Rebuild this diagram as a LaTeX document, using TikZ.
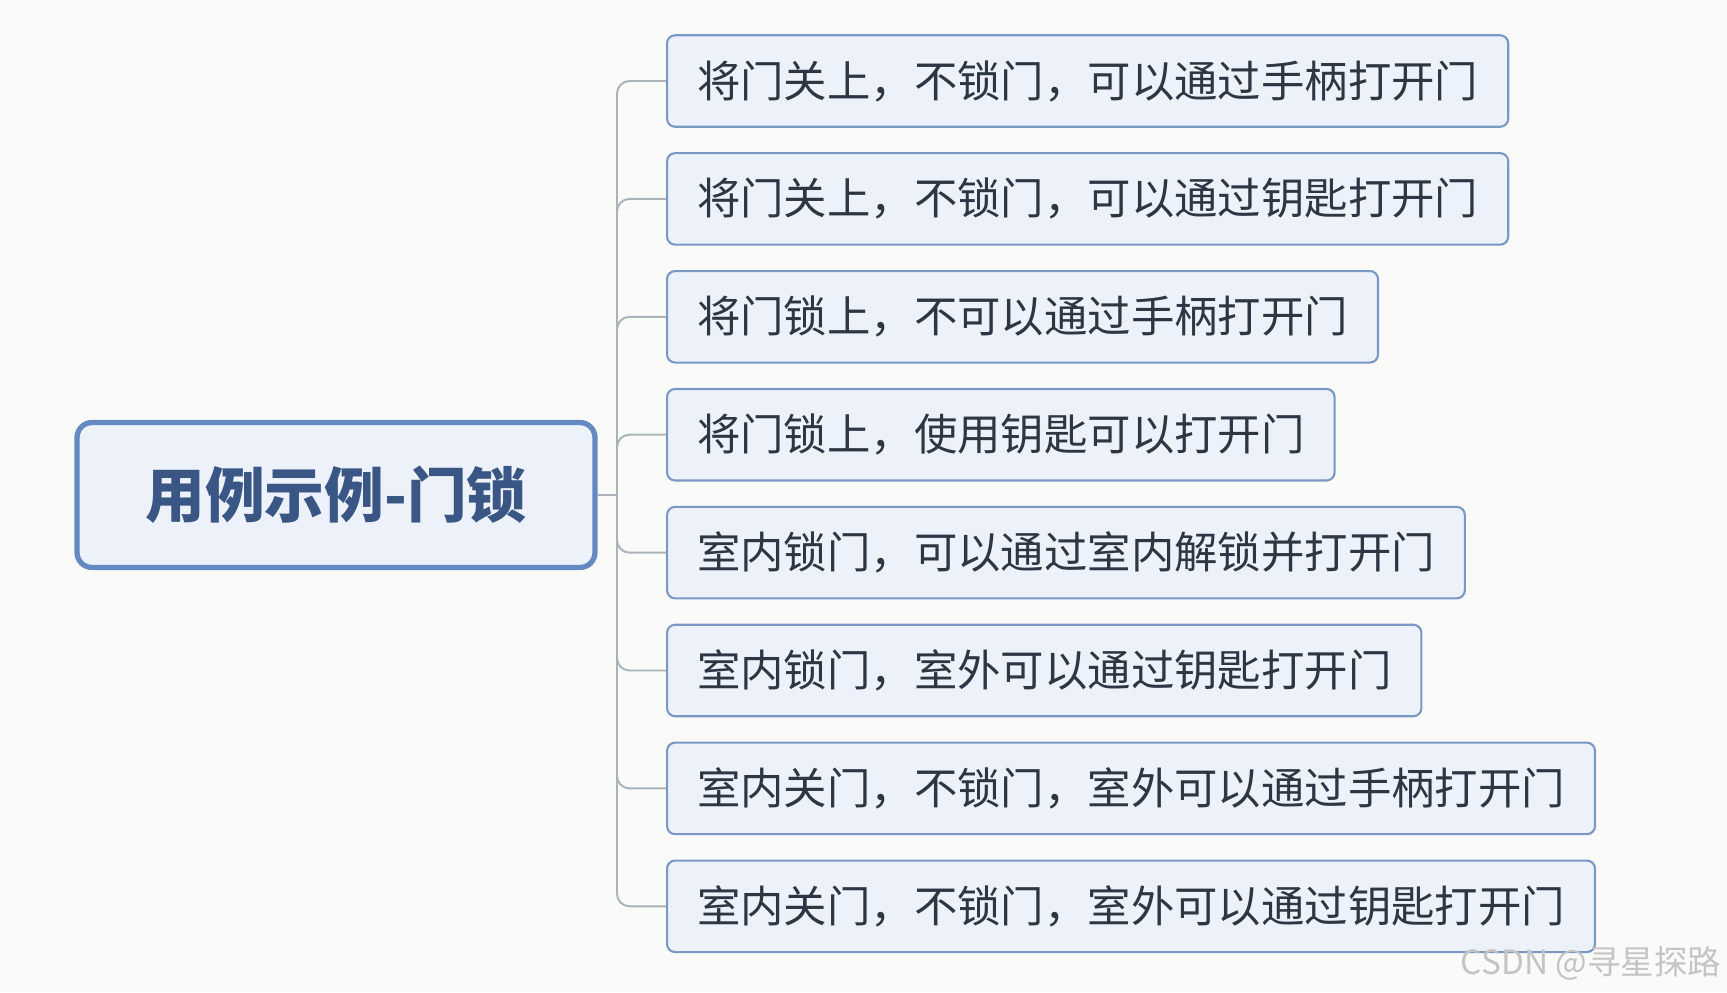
\documentclass[tikz,border=0pt]{standalone}
\usepackage{fontspec}
\usepackage{tikz}
\usetikzlibrary{positioning}
\newfontfamily\cjk{Noto Sans CJK SC}
\definecolor{bgPaper}{HTML}{FAFBF8}
\definecolor{boxFill}{HTML}{EDF2FA}
\definecolor{boxLine}{HTML}{7A98C6}
\definecolor{rootLine}{HTML}{6589C2}
\definecolor{rootText}{HTML}{3A5684}
\definecolor{leafText}{HTML}{2E3644}
\definecolor{linkGray}{HTML}{A9B3BC}
\definecolor{markGray}{HTML}{C4C4C4}

\begin{document}
\begin{tikzpicture}[x=0.02cm, y=-0.02cm,
    rootbox/.style={draw=rootLine, line width=3pt, fill=boxFill, rounded corners=0.3cm,
      minimum width=10.36cm, minimum height=2.9cm, text=rootText,
      font=\cjk\bfseries\fontsize{34}{40}\selectfont},
    leafbox/.style={draw=boxLine, line width=1.2pt, fill=boxFill, rounded corners=0.16cm,
      anchor=west, inner xsep=0.6cm, minimum height=1.83cm, text=leafText,
      font=\cjk\fontsize{24.7}{30}\selectfont},
    link/.style={draw=linkGray, line width=1.1pt, rounded corners=0.25cm}]
    \fill[bgPaper] (0,0) rectangle (1727,992);
    \useasboundingbox (0,0) rectangle (1727,992);
    % root and branching point
    \node[rootbox] (root) at (336,495) {用例示例-门锁};
    \coordinate (hub) at (617,495);
    \draw[link] (root.east) -- (hub);
    % the eight cases
    \foreach \t [count=\i] in {将门关上，不锁门，可以通过手柄打开门,
        将门关上，不锁门，可以通过钥匙打开门,
        将门锁上，不可以通过手柄打开门,
        将门锁上，使用钥匙可以打开门,
        室内锁门，可以通过室内解锁并打开门,
        室内锁门，室外可以通过钥匙打开门,
        室内关门，不锁门，室外可以通过手柄打开门,
        室内关门，不锁门，室外可以通过钥匙打开门} {
      \node[leafbox] (leaf\i) at (666,{81+117.9*(\i-1)}) {\t};
      \draw[link] (hub) |- (leaf\i.west);
    }
    \node[anchor=east, text=markGray, font=\cjk\fontsize{19}{22}\selectfont] (mark) at (1727,963) {CSDN @寻星探路};
  \end{tikzpicture}
\end{document}
